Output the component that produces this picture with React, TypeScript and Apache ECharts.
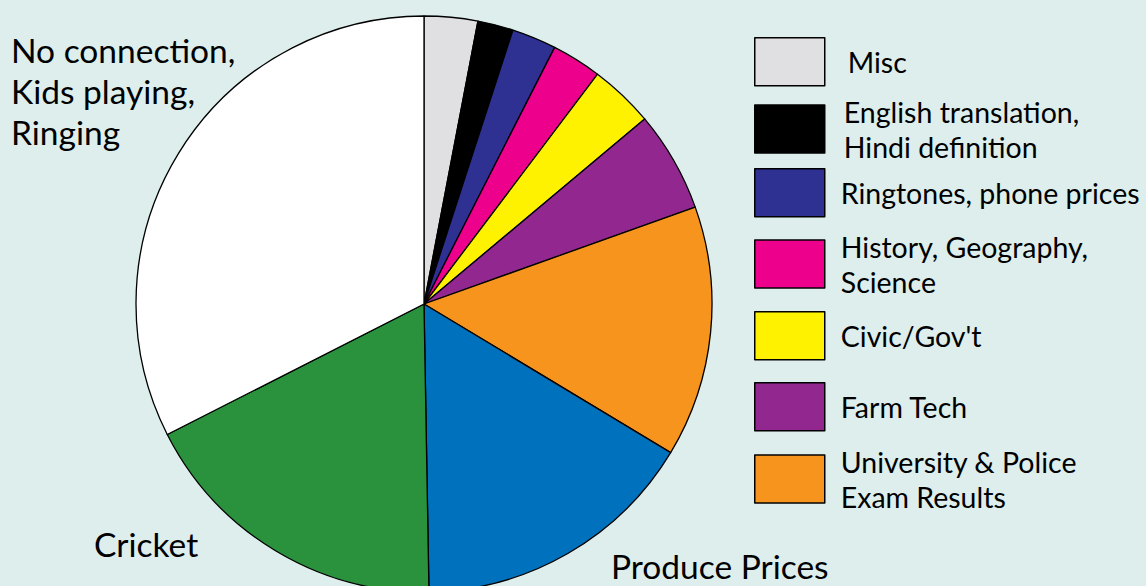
import React, { useEffect, useRef } from 'react';
import * as echarts from 'echarts';

const categories = [
  'Misc',
  'English translation, Hindi definition',
  'Ringtones, phone prices',
  'History, Geography, Science',
  "Civic/Gov't",
  'Farm Tech',
  'University & Police Exam Results',
  'Produce Prices',
  'Cricket',
  'No connection, Kids playing, Ringing',
];
const values = [3.0, 2.0, 2.5, 2.8, 3.6, 5.65, 14.1, 16.1, 17.8, 32.5];
const colors = [
  '#e0e0e2', '#000000', '#2e3192', '#ec008c', '#fff200',
  '#92278f', '#f7941d', '#0071bc', '#2a913c', '#ffffff',
];
const legendLabels = [
  'Misc',
  'English translation,\nHindi definition',
  'Ringtones, phone prices',
  'History, Geography,\nScience',
  "Civic/Gov't",
  'Farm Tech',
  'University & Police\nExam Results',
];
const outsideLabels = ['No connection,\nKids playing,\nRinging', 'Cricket', 'Produce Prices'];

export default function App() {
  const ref = useRef<HTMLDivElement>(null);
  useEffect(() => {
    const chart = echarts.init(ref.current!, null, { renderer: 'svg' });
    const FONT = 'Lato';
    const LFS = 28.5;
    const LLH = 35;
    const rectCenters = [61, 127, 192, 263, 335, 406, 478];
    const textShift = [0, 2, 0, 1, 0, 0, 1];
    const textLefts = [847, 843, 840, 840, 840, 840, 840];
    const legends = legendLabels.map((lab, i) => {
      const lines = lab.split('\n').length;
      const h = Math.max(48, lines * LLH);
      return {
        data: [categories[i]],
        left: 754,
        top: rectCenters[i] - h / 2,
        orient: 'vertical',
        padding: 0,
        icon: 'rect',
        itemWidth: 70,
        itemHeight: 48,
        selectedMode: false,
        formatter: () => lab,
        itemStyle: { borderColor: '#000', borderWidth: 1.5 },
        textStyle: {
          fontFamily: FONT,
          fontSize: LFS,
          lineHeight: LLH,
          color: '#000',
          padding: [textShift[i] * 2, 0, 0, textLefts[i] - 829],
        },
      };
    });
    const BFS = 33.5;
    chart.setOption({
      animation: false,
      backgroundColor: '#ddeeed',
      legend: legends,
      graphic: [
        {
          type: 'text', left: 11, top: 29,
          style: { text: outsideLabels[0], font: `${BFS}px ${FONT}`, lineHeight: 41, fill: '#000' },
        },
        {
          type: 'text', left: 94, top: 527,
          style: { text: outsideLabels[1], font: `${BFS}px ${FONT}`, lineHeight: 34, fill: '#000' },
        },
        {
          type: 'text', left: 611, top: 549,
          style: { text: outsideLabels[2], font: `${BFS}px ${FONT}`, lineHeight: 34, fill: '#000' },
        },
      ],
      series: [
        {
          type: 'pie',
          center: [424, 304],
          radius: 288,
          startAngle: 90,
          clockwise: true,
          label: { show: false },
          labelLine: { show: false },
          emphasis: { disabled: true },
          itemStyle: { borderColor: '#000', borderWidth: 1.3 },
          data: categories.map((c, i) => ({
            name: c,
            value: values[i],
            itemStyle: { color: colors[i] },
          })),
        },
      ],
    });
    return () => chart.dispose();
  }, []);
  return <div ref={ref} style={{ position: 'fixed', left: 0, top: 0, width: 1146, height: 586 }} />;
}
